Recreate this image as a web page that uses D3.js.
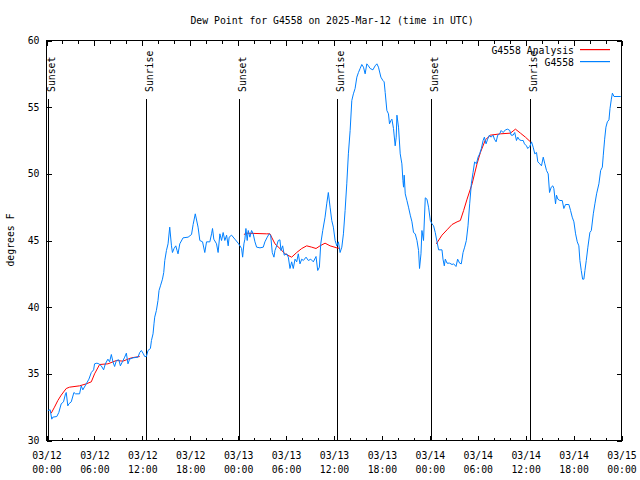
<!DOCTYPE html>
<html><head><meta charset="utf-8">
<script src="https://cdn.jsdelivr.net/npm/d3@7"></script>
<style>
body{margin:0;background:#fff}
svg{display:block}
text{font-family:"DejaVu Sans Mono","Liberation Mono",monospace;font-size:9.8px;fill:#000}
</style>
</head><body>
<svg id="chart" width="640" height="480"></svg>
<script>
const chartTitle = "Dew Point for G4558 on 2025-Mar-12 (time in UTC)";
const yLabel = "degrees F";
const seriesNames = ["G4558 Analysis", "G4558"];
const yTicks = [30, 35, 40, 45, 50, 55, 60];
const startUtc = Date.UTC(2025, 2, 12, 0, 0);
const spanHours = 72;
const sunEvents = ["Sunset", "Sunrise", "Sunset", "Sunrise", "Sunset", "Sunrise"];
const sunHours = [0.13, 12.5, 24.13, 36.42, 48.18, 60.5];

// observed series [hours since 03/12 00:00 UTC, dew point F]
const obsPoints = [
[0.16,32.25],[0.46,32.3],[0.66,31.6],[0.79,31.75],[1.29,31.8],[1.54,32.1],[1.84,32.75],[2.13,32.9],[2.38,33.5],[2.47,33.6],
[2.67,32.6],[2.80,32.75],[3.10,32.9],[3.43,33.6],[3.64,33.5],[4.14,33.5],[4.35,34.1],[4.55,33.8],[4.98,34.25],[5.31,34.6],
[5.61,35.1],[5.90,35.3],[6.02,35.75],[6.31,35.8],[6.56,35.75],[6.86,35.6],[7.15,35.3],[7.37,35.75],[7.69,36.1],[7.90,35.9],
[8.12,36.45],[8.32,35.9],[8.53,35.55],[8.75,36],[9.07,36.05],[9.25,35.6],[9.50,35.9],[9.79,36.25],[10.00,36.55],[10.20,35.75],
[10.41,36.1],[10.83,36.2],[11.46,36.25],[11.67,36.6],[11.88,36.75],[12.08,36.55],[12.30,36.3],[12.51,36.3],[12.71,36.75],[13.01,36.9],
[13.14,37.5],[13.34,38],[13.46,38.75],[13.55,39.25],[13.76,39.75],[13.96,40.5],[14.09,41.25],[14.27,41.6],[14.52,42.1],[14.68,42.6],
[14.81,43.5],[15.02,44.25],[15.22,44.75],[15.43,46.0],[15.65,44.6],[15.77,44.1],[15.97,44.4],[16.19,44.6],[16.35,44.25],[16.47,44],
[16.69,44.75],[17.10,45.2],[17.73,45.25],[18.16,45.45],[18.36,46.2],[18.63,47.0],[18.98,46.0],[19.20,45],[19.54,44.9],[19.82,44.1],
[20.04,44.9],[20.45,44.9],[20.67,45.5],[20.79,45.9],[20.95,45.1],[21.29,44.75],[21.49,44.1],[21.71,45.5],[21.92,45],[22.12,45.6],
[22.33,45],[22.55,45.4],[22.75,44.6],[22.87,45.25],[23.17,45.4],[23.59,45.1],[24.00,44.8],
[24.22,44.6],[24.43,44.4],[24.56,43.75],[24.72,44.75],[24.84,45.1],[24.97,45.9],[25.13,45],[25.26,45.75],[25.47,45.25],[25.68,45.75],
[25.88,45.5],[26.10,44.9],[26.31,44.5],[26.73,44.45],[27.14,44.5],[27.35,44.9],[27.64,45.25],[27.89,45.5],[28.07,45.4],[28.27,44.1],
[28.48,43.75],[28.61,44.25],[28.82,44.6],[29.02,45],[29.23,45.05],[29.36,44.25],[29.57,44.6],[29.77,43.9],[30.08,44],[30.28,43.75],
[30.49,42.9],[30.70,43.4],[30.90,42.9],[31.12,43.6],[31.33,43.4],[31.53,44],[31.74,43.25],[31.96,43.6],[32.16,43.5],[32.50,43.75],
[32.79,43.5],[33.09,43.6],[33.41,43.4],[33.75,43.8],[33.96,42.75],[34.17,43],[34.34,44.75],[34.59,45.75],[34.88,46.75],[35.09,47.75],
[35.29,48.6],[35.51,47.5],[35.72,46.5],[35.92,46],[36.14,45],[36.35,44.6],[36.55,44.9],[36.76,44.1],[36.98,44.5],[37.18,45.5],
[37.39,47.25],[37.60,49.25],[37.80,51.5],[38.02,53.25],[38.23,55.5],[38.43,56],[38.64,56.4],[38.86,57.25],[39.06,57.6],[39.27,57.9],
[39.48,58.2],[39.69,58],[39.90,57.5],[40.11,58.25],[40.31,58.1],[40.53,57.9],[40.87,57.8],[41.15,58.1],[41.37,58.25],[41.57,58],
[41.87,57.25],[42.12,57],[42.28,56.9],[42.41,56.1],[42.62,54.75],[42.82,54.5],[42.95,53.75],[43.12,54],[43.25,54.1],[43.45,53.4],
[43.66,52.1],[43.79,52.75],[43.88,54.4],[44.08,53.5],[44.29,51.5],[44.50,50.75],[44.63,49.5],[44.71,49],[44.79,49.9],[44.92,48.5],
[45.13,48],[45.33,47.5],[45.55,46.9],[45.76,46.4],[45.96,45.6],[46.17,45.5],[46.39,45],[46.59,44.25],[46.71,42.9],[46.89,44],
[47.01,45.75],[47.21,45],[47.43,48.2],[47.64,48.1],[47.84,47.5],[48.06,46.5],[48.27,46.25],[48.47,46.1],[48.68,45.6],[48.90,44.9],
[49.10,44.3],[49.52,44.3],[49.65,43.6],[49.81,43.1],[49.94,43.6],[50.15,43.3],[50.48,43.3],[50.78,43.2],[50.98,43.25],[51.28,43.05],
[51.48,43.6],[51.73,43.3],[51.94,43.25],[52.16,44.1],[52.36,44.5],[52.57,45],[52.78,46.1],[52.99,47.75],[53.20,49.25],[53.41,50.1],
[53.61,50.9],[53.83,50.75],[54.04,51.25],[54.24,51.5],[54.45,51.9],[54.67,52.5],[54.83,52.75],[55.04,52.25],[55.24,52.6],[55.46,52.9],
[55.67,52.75],[55.92,52.9],[56.09,52.6],[56.30,52.4],[56.50,52.9],[56.75,53],[56.93,53.25],[57.18,53.1],[57.47,53.3],[57.75,53.35],
[58.01,53.25],[58.18,52.9],[58.43,52.9],[58.63,53.1],[58.85,52.5],[59.01,52.75],[59.22,52.55],[59.44,52.5],[59.69,52.5],[59.85,52.25],
[60.10,52.1],[60.26,51.9],[60.51,52.05],[60.73,52.4],[60.94,52],[61.14,51.5],[61.36,51.6],[61.52,50.9],[61.77,50.75],[61.98,50.6],
[62.20,51.25],[62.40,50.75],[62.61,50.25],[62.82,50],[62.99,48.6],[63.20,49],[63.40,49.1],[63.53,48.9],[63.74,47.75],[63.86,48.4],
[64.03,48.1],[64.28,48],[64.58,48],[64.78,47.4],[64.99,47.7],[65.41,47.7],[65.62,47.25],[65.83,46.75],[66.04,46.4],[66.25,45.5],
[66.46,44.9],[66.66,44.6],[66.79,43.5],[66.96,42.75],[67.13,42.1],[67.29,42.1],[67.42,42.75],[67.59,43.5],[67.79,44.5],[68.04,45.6],
[68.22,45.75],[68.47,47],[68.67,47.75],[68.88,48.5],[69.17,49.25],[69.39,50.25],[69.60,50.5],[69.72,51.4],[69.89,52.6],[70.05,53.5],
[70.23,53.9],[70.43,54.05],[70.56,54.9],[70.73,55.6],[70.86,56.05],[71.06,55.8],[71.90,55.8]
];

// analysis series, null = gap
const anaPoints = [
[0.59,32.05],[1.0,32.5],[1.42,33],[1.84,33.4],[2.47,33.9],[2.89,34.0],[4.14,34.1],[4.98,34.25],[5.61,34.4],[6.02,35],
[6.65,35.7],[7.69,35.75],[8.75,36],[9.57,35.95],[10.63,36.2],[11.67,36.3],
null,
[24.72,45.45],[25.06,45.55],[27.57,45.5],[27.98,45.5],[28.61,44.75],[29.23,44.4],[29.86,44],[30.70,43.75],[31.33,44.1],[31.96,44.4],
[32.58,44.6],[33.21,44.5],[33.75,44.4],[34.25,44.6],[34.88,44.8],[35.51,44.6],[36.35,44.45],[36.76,44.4],
null,
[48.81,44.75],[49.52,45.4],[50.15,45.8],[50.78,46.2],[51.41,46.4],[51.82,46.5],[52.23,47.25],[52.66,48.1],[53.29,49.25],[53.91,50.75],
[54.33,51.6],[54.96,52.55],[55.58,52.9],[56.84,53],[58.09,53.05],[58.72,53.35],[59.35,53.05],[59.97,52.75],[60.60,52.4]
];

const H = 3600 * 1000;
const toDate = h => new Date(startUtc + h * H);

const svg = d3.select("#chart");
const L = 46.5, R = 621.5, T = 40.5, B = 440.5;
const x = d3.scaleUtc().domain([toDate(0), toDate(spanHours)]).range([L, R]);
const y = d3.scaleLinear().domain([30, 60]).range([B, T]);

const blue = "#0080ff", red = "#ff0000";

// title
svg.append("text").attr("x", 332).attr("y", 24).attr("text-anchor", "middle").text(chartTitle);

// y label
svg.append("text").attr("transform", "translate(14,240) rotate(-90)")
  .attr("text-anchor", "middle").text(yLabel);

// frame
svg.append("rect").attr("x", L).attr("y", T).attr("width", R - L).attr("height", B - T)
  .attr("fill", "none").attr("stroke", "#000").attr("shape-rendering", "crispEdges");

const majorX = x.ticks(d3.utcHour.every(6));
const minorX = x.ticks(d3.utcHour.every(2));

// bottom axis (major with labels)
const gB = svg.append("g").attr("transform", `translate(0,${B})`)
  .call(d3.axisBottom(x).tickValues(majorX).tickSizeInner(-5).tickSizeOuter(0).tickFormat(d3.utcFormat("%m/%d")));
gB.select(".domain").remove();
gB.selectAll("text").each(function(d) {
  const t = d3.select(this);
  t.text(null).attr("y", 0).attr("dy", null);
  t.append("tspan").attr("x", 0).attr("y", 18).text(d3.utcFormat("%m/%d")(d));
  t.append("tspan").attr("x", 0).attr("y", 32).text(d3.utcFormat("%H:%M")(d));
});
gB.attr("font-size", null).attr("font-family", null);
// minor bottom ticks
svg.append("g").attr("transform", `translate(0,${B})`)
  .call(d3.axisBottom(x).tickValues(minorX).tickSizeInner(-3).tickSizeOuter(0).tickFormat(""))
  .select(".domain").remove();
// top mirror ticks
const gT = svg.append("g").attr("transform", `translate(0,${T})`)
  .call(d3.axisTop(x).tickValues(majorX).tickSizeInner(-5).tickSizeOuter(0).tickFormat(""));
gT.select(".domain").remove();
svg.append("g").attr("transform", `translate(0,${T})`)
  .call(d3.axisTop(x).tickValues(minorX).tickSizeInner(-3).tickSizeOuter(0).tickFormat(""))
  .select(".domain").remove();

// left axis
const gL = svg.append("g").attr("transform", `translate(${L},0)`)
  .call(d3.axisLeft(y).tickValues(yTicks).tickSizeInner(-5).tickSizeOuter(0).tickPadding(7).tickFormat(d3.format("d")));
gL.select(".domain").remove();
gL.attr("font-size", null).attr("font-family", null);
// right mirror
svg.append("g").attr("transform", `translate(${R},0)`)
  .call(d3.axisRight(y).tickValues(yTicks).tickSizeInner(-5).tickSizeOuter(0).tickFormat(""))
  .select(".domain").remove();

svg.selectAll(".tick line").attr("shape-rendering", "crispEdges").attr("stroke", "#000");
svg.selectAll(".tick text").attr("fill", "#000");

// sunrise / sunset markers
sunHours.forEach((h, i) => {
  const px = Math.round(x(toDate(h))) + 0.5;
  svg.append("line").attr("x1", px).attr("x2", px).attr("y1", 99).attr("y2", B)
    .attr("stroke", "#000").attr("shape-rendering", "crispEdges");
  svg.append("text").attr("transform", `translate(${px + 6},92) rotate(-90)`)
    .attr("text-anchor", "start").text(sunEvents[i]);
});

// lines
const line = d3.line().defined(d => d !== null)
  .x(d => x(toDate(d[0]))).y(d => y(d[1]));

svg.append("path").datum(anaPoints).attr("d", line)
  .style("fill", "none").style("stroke", red).style("stroke-width", "1px");
svg.append("path").datum(obsPoints).attr("d", line)
  .style("fill", "none").style("stroke", blue).style("stroke-width", "1px");

// legend
const legendColors = [red, blue];
seriesNames.forEach((name, i) => {
  const ly = 50 + i * 12;
  svg.append("text").attr("x", 574).attr("y", ly + 3.5).attr("text-anchor", "end").text(name);
  svg.append("rect").attr("x", 580).attr("y", ly - 1).attr("width", 30).attr("height", 1.2)
    .style("fill", legendColors[i]).style("stroke", "none");
});
</script>
</body></html>
